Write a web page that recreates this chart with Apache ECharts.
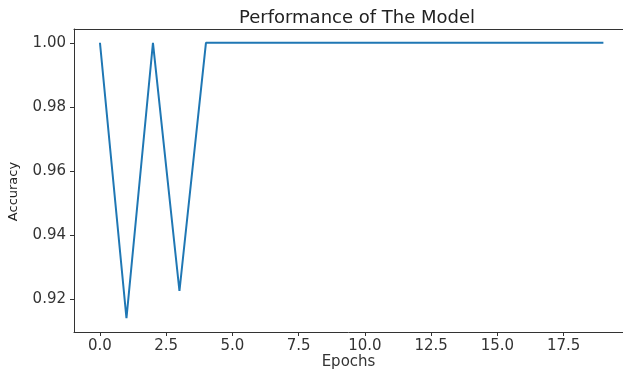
<!DOCTYPE html>
<html>
<head>
<meta charset="utf-8">
<script src="https://cdn.jsdelivr.net/npm/echarts@6/dist/echarts.min.js"></script>
<style>
  html, body { margin: 0; padding: 0; background: #fff; }
  #chart { width: 623px; height: 370px; }
</style>
</head>
<body>
<div id="chart"></div>
<script>
// accuracy per epoch
const epochs = [0, 1, 2, 3, 4, 5, 6, 7, 8, 9, 10, 11, 12, 13, 14, 15, 16, 17, 18, 19]
const accuracy = [1.0, 0.914, 1.0, 0.9225, 1.0, 1.0, 1.0, 1.0, 1.0, 1.0, 1.0, 1.0, 1.0, 1.0, 1.0, 1.0, 1.0, 1.0, 1.0, 1.0]
const xTicks = [0, 2.5, 5, 7.5, 10, 12.5, 15, 17.5]
const yTicks = [0.92, 0.94, 0.96, 0.98, 1.0]

const font = 'DejaVu Sans'
const ink = '#333'

const chart = echarts.init(document.getElementById('chart'), null, { renderer: 'canvas' })

chart.setOption({
  animation: false,
  title: {
    text: 'Performance of The Model',
    left: 352,
    textAlign: 'center',
    top: 4,
    textStyle: { fontFamily: font, fontSize: 18, fontWeight: 'normal', color: '#222' },
  },
  // right spine is cut off by the picture edge, so the plot runs to x=623
  grid: { left: 74, top: 29, right: 0, bottom: 38, outerBoundsMode: 'none', containLabel: false },
  xAxis: [
    {
      type: 'value',
      min: -0.98,
      max: 19.74,
      name: 'Epochs',
      nameLocation: 'middle',
      nameGap: 23,
      nameMoveOverlap: false,
      nameTextStyle: { fontFamily: font, fontSize: 15, color: ink },
      splitLine: { show: false },
      axisLine: { show: true, onZero: false, lineStyle: { color: ink, width: 1 } },
      axisTick: { show: true, length: 4, customValues: xTicks, lineStyle: { color: ink } },
      axisLabel: {
        customValues: xTicks,
        margin: 7,
        fontFamily: font,
        fontSize: 15,
        color: ink,
        formatter: (v) => v.toFixed(1),
      },
    },
    {
      // top spine
      type: 'value',
      position: 'top',
      min: -0.98,
      max: 19.74,
      splitLine: { show: false },
      axisLine: { show: true, onZero: false, lineStyle: { color: ink, width: 1 } },
      axisTick: { show: false },
      axisLabel: { show: false },
    },
  ],
  yAxis: {
    type: 'value',
    min: 0.9097,
    max: 1.0043,
    name: 'Accuracy',
    nameLocation: 'middle',
    nameGap: 54,
    nameMoveOverlap: false,
    nameTextStyle: { fontFamily: font, fontSize: 13, color: '#222', padding: [0, 0, 0, -22] },
    splitLine: { show: false },
    axisLine: { show: true, onZero: false, lineStyle: { color: ink, width: 1 } },
    axisTick: { show: true, length: 4, customValues: yTicks, lineStyle: { color: ink } },
    axisLabel: {
      customValues: yTicks,
      margin: 8,
      fontFamily: font,
      fontSize: 15,
      color: ink,
      formatter: (v) => v.toFixed(2),
    },
  },
  series: [
    {
      type: 'line',
      data: epochs.map((e, i) => [e, accuracy[i]]),
      showSymbol: false,
      lineStyle: { color: '#1f77b4', width: 2 },
    },
  ],
})
</script>
</body>
</html>
